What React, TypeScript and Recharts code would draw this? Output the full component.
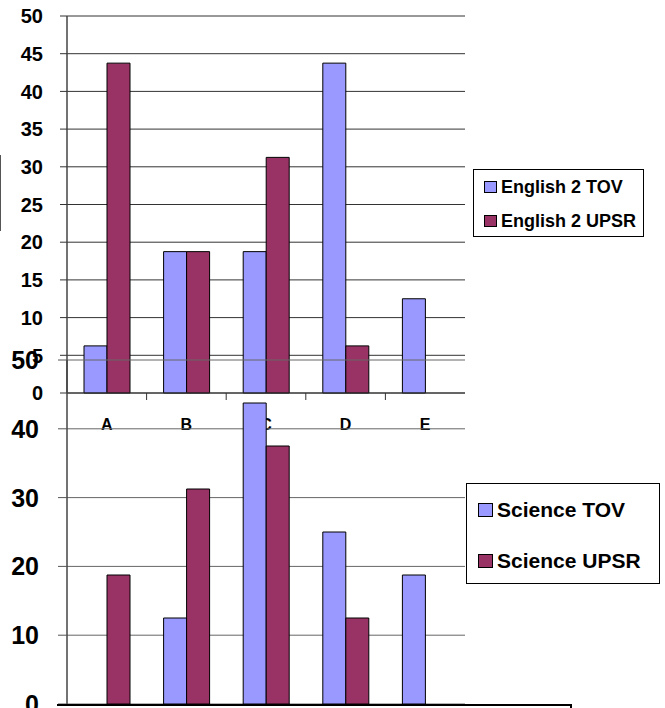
import React from "react";
import { BarChart, Bar, XAxis, YAxis, CartesianGrid, Legend } from "recharts";

const categories = ["A", "B", "C", "D", "E"];
const english2TOV = [6.25, 18.75, 18.75, 43.75, 12.5];
const english2UPSR = [43.75, 18.75, 31.25, 6.25, 0];
const scienceTOV = [0, 12.5, 43.75, 25, 18.75];
const scienceUPSR = [18.75, 31.25, 37.5, 12.5, 0];
const topTicks = [0, 5, 10, 15, 20, 25, 30, 35, 40, 45, 50];
const bottomTicks = [0, 10, 20, 30, 40, 50];

const TOV_COLOR = "#9999FF";
const UPSR_COLOR = "#993366";
const FONT = "'Liberation Sans', Arial, sans-serif";

const topData = categories.map((c, i) => ({ cat: c, tov: english2TOV[i], upsr: english2UPSR[i] }));
const bottomData = categories.map((c, i) => ({ cat: c, tov: scienceTOV[i], upsr: scienceUPSR[i] }));

const W = 665;
const H = 708;

const CatTick = (props: any) => {
  const { x, y, payload, index, width, visibleTicksCount } = props;
  const step = width / (visibleTicksCount || 5);
  return (
    <g>
      {index < (visibleTicksCount || 5) - 1 && (
        <line x1={x + step / 2} x2={x + step / 2} y1={y - 7} y2={y} stroke="#333" strokeWidth={1} />
      )}
      <text
        x={x}
        y={y + 30}
        textAnchor="middle"
        style={{ fontFamily: FONT, fontWeight: 700, fontSize: 16 }}
        fill="#000"
      >
        {payload.value}
      </text>
    </g>
  );
};

const makeYTick = (fontSize: number) => (props: any) => {
  const { x, y, payload } = props;
  return (
    <text
      x={x}
      y={y}
      dy={fontSize * 0.36}
      textAnchor="end"
      style={{ fontFamily: FONT, fontWeight: 700, fontSize }}
      fill="#000"
    >
      {payload.value}
    </text>
  );
};
const TopYTick = makeYTick(20);
const BottomYTick = makeYTick(25);

const makeLegend = (opts: {
  fontSize: number;
  width: number;
  height: number;
  rowGap: number;
  sq: number;
  padLeft: number;
}) => (props: any) => {
  const payload = props.payload || [];
  return (
    <div
      style={{
        width: opts.width,
        height: opts.height,
        boxSizing: "border-box",
        border: "1px solid #000",
        background: "#fff",
        paddingLeft: opts.padLeft,
      }}
    >
      {payload.map((p: any, i: number) => (
        <div
          key={i}
          style={{
            display: "flex",
            alignItems: "center",
            height: opts.rowGap,
            fontFamily: FONT,
            fontWeight: 700,
            fontSize: opts.fontSize,
            color: "#000",
            whiteSpace: "nowrap",
          }}
        >
          <span
            style={{
              display: "inline-block",
              flexShrink: 0,
              width: opts.sq,
              height: opts.sq - 1,
              background: p.color,
              border: "1px solid #000",
              boxSizing: "border-box",
              marginRight: 4,
            }}
          />
          {p.value}
        </div>
      ))}
    </div>
  );
};

const TopLegend = makeLegend({ fontSize: 18, width: 171, height: 68, rowGap: 34, sq: 13, padLeft: 10 });
const BottomLegend = makeLegend({ fontSize: 21, width: 194, height: 101, rowGap: 51, sq: 15, padLeft: 11 });

export default function App() {
  return (
    <div style={{ position: "absolute", left: 0, top: 0, width: W, height: H, background: "#fff", overflow: "hidden" }}>
      <div style={{ position: "absolute", left: 0, top: 155, width: 1, height: 76, background: "#555" }} />
      <div style={{ position: "absolute", left: 0, top: 0 }}>
        <BarChart
          width={W}
          height={H}
          data={topData}
          margin={{ top: 16, right: 200, bottom: 275, left: 0 }}
          barSize={23}
          barGap={0}
        >
          <CartesianGrid vertical={false} stroke="#333" strokeOpacity={1} />
          <XAxis
            dataKey="cat"
            height={40}
            axisLine={{ stroke: "#333" }}
            tickLine={{ stroke: "none" }}
            tickSize={7}
            tickMargin={0}
            tick={<CatTick />}
            interval={0}
          />
          <XAxis xAxisId="t" dataKey="cat" orientation="top" height={0} tick={false} tickLine={false} axisLine={{ stroke: "#888", strokeWidth: 2 }} />
          <YAxis
            width={67}
            domain={[0, 50]}
            ticks={topTicks}
            interval={0}
            axisLine={{ stroke: "#444", strokeWidth: 1.5 }}
            tickLine={{ stroke: "#333" }}
            tickSize={7}
            tickMargin={17}
            tick={<TopYTick />}
          />
          <YAxis yAxisId="r" orientation="right" width={0} domain={[0, 50]} tick={false} tickLine={false} axisLine={{ stroke: "#999", strokeWidth: 2 }} />
          <Legend
            layout="horizontal"
            verticalAlign="middle"
            align="center"
            content={TopLegend}
            wrapperStyle={{ left: 473, top: 169, width: 171, height: 68 }}
          />
          <Bar dataKey="tov" name="English 2 TOV" fill={TOV_COLOR} stroke="#000" strokeWidth={1} isAnimationActive={false} />
          <Bar dataKey="upsr" name="English 2 UPSR" fill={UPSR_COLOR} stroke="#000" strokeWidth={1} isAnimationActive={false} />
        </BarChart>
      </div>
      <div style={{ position: "absolute", left: 0, top: 0 }}>
        <BarChart
          width={W}
          height={H}
          data={bottomData}
          margin={{ top: 360, right: 200, bottom: 4, left: 0 }}
          barSize={23}
          barGap={0}
        >
          <CartesianGrid vertical={false} stroke="#666" strokeOpacity={1} />
          <XAxis dataKey="cat" hide />
          <XAxis xAxisId="t" dataKey="cat" orientation="top" height={0} tick={false} tickLine={false} axisLine={{ stroke: "#999", strokeWidth: 2 }} />
          <YAxis
            width={67}
            domain={[0, 50]}
            ticks={bottomTicks}
            interval={0}
            axisLine={{ stroke: "#444", strokeWidth: 1.5 }}
            tickLine={{ stroke: "#555" }}
            tickSize={9}
            tickMargin={19}
            tick={<BottomYTick />}
          />
          <YAxis yAxisId="r" orientation="right" width={0} domain={[0, 50]} tick={false} tickLine={false} axisLine={{ stroke: "#999", strokeWidth: 2 }} />
          <Legend
            layout="horizontal"
            verticalAlign="middle"
            align="center"
            content={BottomLegend}
            wrapperStyle={{ left: 466, top: 483, width: 194, height: 101 }}
          />
          <Bar dataKey="tov" name="Science TOV" fill={TOV_COLOR} stroke="#000" strokeWidth={1} isAnimationActive={false} />
          <Bar dataKey="upsr" name="Science UPSR" fill={UPSR_COLOR} stroke="#000" strokeWidth={1} isAnimationActive={false} />
        </BarChart>
      </div>
      <div style={{ position: "absolute", left: 57, top: 704, width: 513, height: 10, borderTop: "2px solid #000", borderRight: "2px solid #000" }} />
    </div>
  );
}
